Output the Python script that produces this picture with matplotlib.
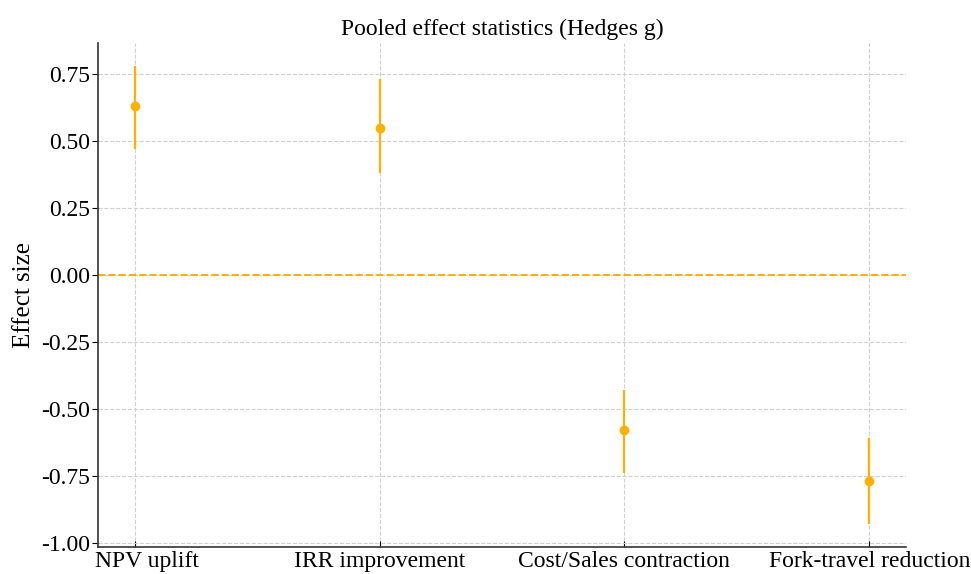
import matplotlib
matplotlib.use("Agg")
import matplotlib.pyplot as plt
import matplotlib.transforms as mtransforms
import numpy as np

plt.rcParams['font.family'] = ['Liberation Serif', 'DejaVu Serif']

# pooled effects (Hedges g) with CI bounds
labels = ["NPV uplift", "IRR improvement", "Cost/Sales contraction", "Fork-travel reduction"]
effect = [0.63, 0.55, -0.58, -0.77]
ci_low = [0.47, 0.38, -0.74, -0.93]
ci_high = [0.78, 0.73, -0.43, -0.61]

color = '#FFB000'
x = np.arange(len(labels))
eff = np.array(effect)
yerr = [eff - np.array(ci_low), np.array(ci_high) - eff]

fig, ax = plt.subplots(figsize=(9.71, 5.74), dpi=100)
ax.errorbar(x, eff, yerr=yerr, fmt='o', color=color, ecolor=color,
            elinewidth=1.6, markersize=6, capsize=0, zorder=3)
ax.axhline(0, color=color, linestyle='--', linewidth=1.4, zorder=2)

ax.set_xticks(x)
ax.set_xticklabels(labels)
ax.set_yticks([-1.0, -0.75, -0.5, -0.25, 0.0, 0.25, 0.5, 0.75])
ax.yaxis.set_major_formatter(plt.FormatStrFormatter('%.2f'))
ax.tick_params(labelsize=17)
ax.tick_params(axis='x', direction='in', length=4, pad=3)
ax.tick_params(axis='y', direction='out', length=4, pad=2)
ax.set_ylabel("Effect size", fontsize=18, labelpad=4)
ax.set_title("Pooled effect statistics (Hedges g)", fontsize=17, pad=6)

# first label sits a bit right so it clears the -1.00 label
lbl = ax.get_xticklabels()[0]
lbl.set_transform(lbl.get_transform() + mtransforms.ScaledTranslation(12/100, 0, fig.dpi_scale_trans))

ax.grid(True, linestyle='--', color='#d0d0d0', linewidth=0.8)
ax.set_axisbelow(True)
ax.spines['top'].set_visible(False)
ax.spines['right'].set_visible(False)
ax.spines['left'].set_linewidth(1.2)
ax.spines['bottom'].set_linewidth(1.2)
ax.spines['left'].set_color('#333333')
ax.spines['bottom'].set_color('#333333')

plt.subplots_adjust(left=0.101, right=0.933, top=0.925, bottom=0.047)
plt.savefig("out.png")
